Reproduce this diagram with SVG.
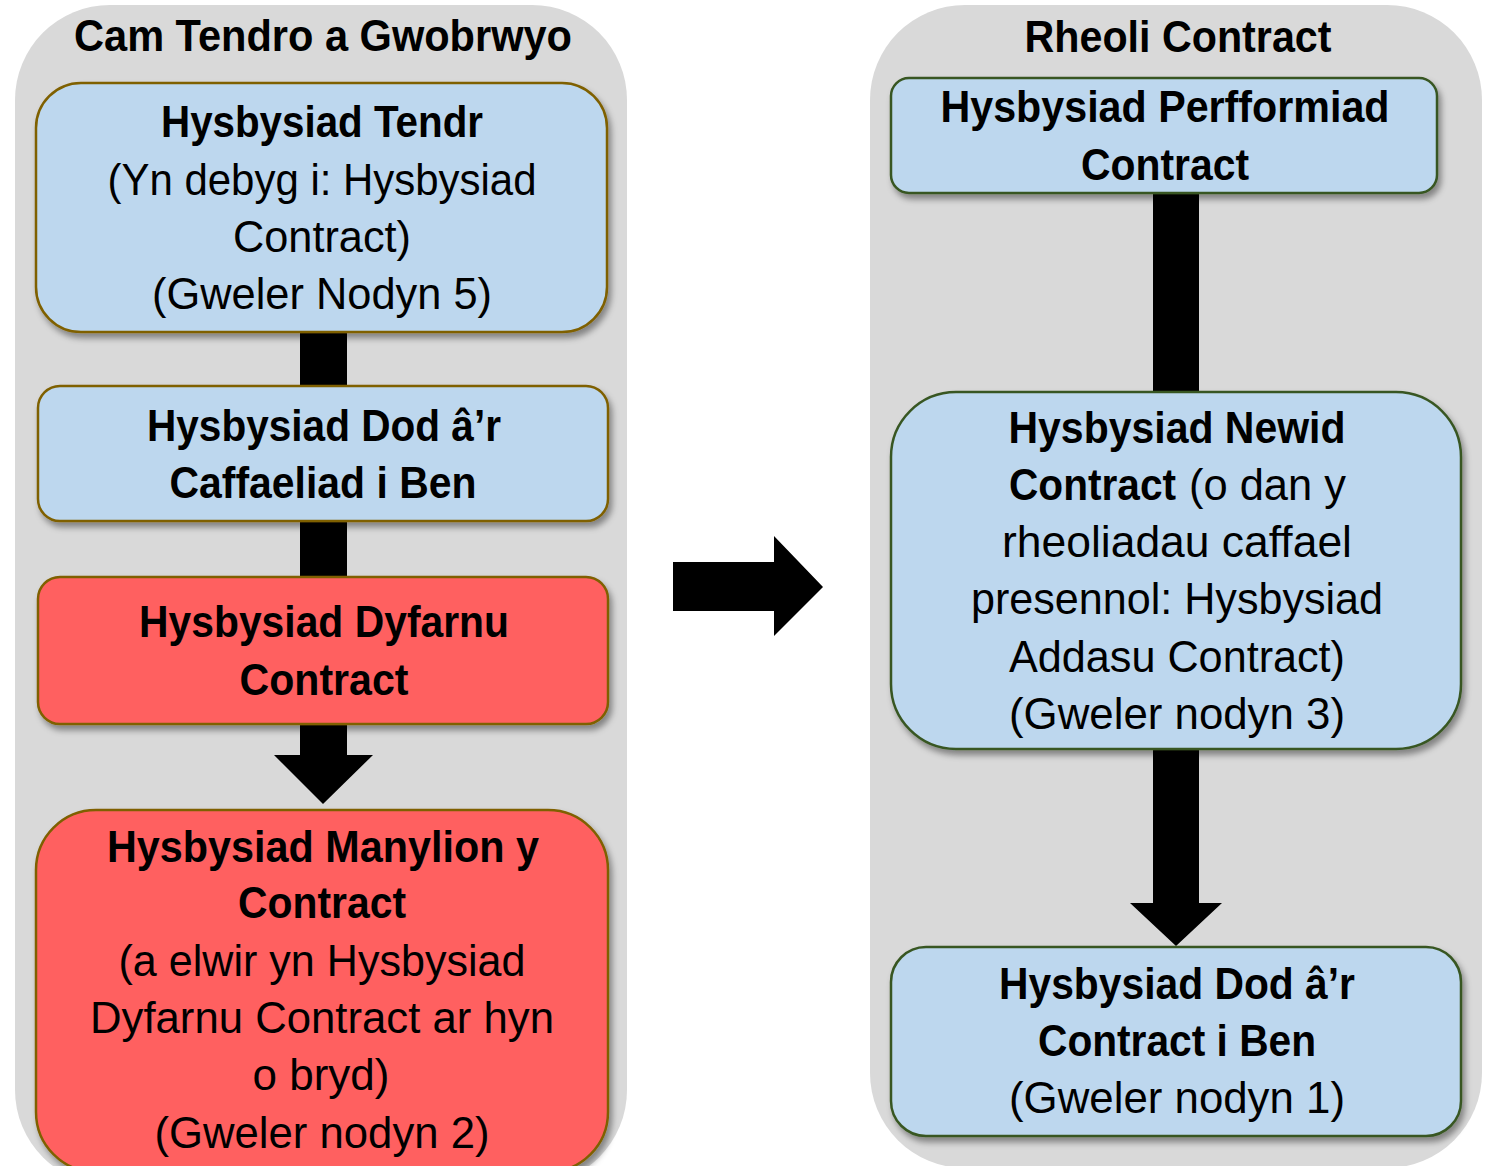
<svg xmlns="http://www.w3.org/2000/svg" width="1493" height="1166" viewBox="0 0 1493 1166">
<defs>
<style>
.t{font-family:"Liberation Sans",Arial,sans-serif;font-size:45px;fill:#000;text-anchor:middle}
.b{font-weight:bold}
.s{text-anchor:start}
.panel{fill:#D9D9D9}
.blueL{fill:#BDD7EE;stroke:#7F6000;stroke-width:2.5;filter:url(#sh)}
.redL{fill:#FF6161;stroke:#7F6000;stroke-width:2.5;filter:url(#sh)}
.blueR{fill:#BDD7EE;stroke:#385723;stroke-width:2.5;filter:url(#sh)}
.conn{fill:#000}
</style>
<filter id="sh" x="-10%" y="-10%" width="125%" height="130%">
<feDropShadow dx="3" dy="5" stdDeviation="3" flood-color="#000" flood-opacity="0.4"/>
</filter>
</defs>
<rect width="1493" height="1166" fill="#fff"/>
<g id="panel-left">
<rect class="panel" x="15" y="5" width="612" height="1180" rx="95"/>
<text class="t b" x="323" y="51" textLength="498" lengthAdjust="spacingAndGlyphs">Cam Tendro a Gwobrwyo</text>
</g>
<g id="panel-right">
<rect class="panel" x="870" y="5" width="612" height="1163" rx="95"/>
<text class="t b" x="1178" y="52" textLength="307" lengthAdjust="spacingAndGlyphs">Rheoli Contract</text>
</g>
<g id="connectors">
<rect class="conn" x="300" y="330" width="47" height="58"/>
<rect class="conn" x="300" y="519" width="47" height="60"/>
<polygon class="conn" points="300,724 347,724 347,755 373,755 323,804 274,755 300,755"/>
<polygon class="conn" points="673,562 774,562 774,536 823,587 774,636 774,611 673,611"/>
<rect class="conn" x="1153" y="192" width="46" height="201"/>
<polygon class="conn" points="1153,749 1199,749 1199,903 1222,903 1176,946 1130,903 1153,903"/>
</g>
<g id="node-tendr">
<rect class="blueL" x="36" y="83" width="571" height="249" rx="45"/>
<text class="t b" x="322" y="137" textLength="322" lengthAdjust="spacingAndGlyphs">Hysbysiad Tendr</text>
<text class="t" x="322" y="195" textLength="429" lengthAdjust="spacingAndGlyphs">(Yn debyg i: Hysbysiad</text>
<text class="t" x="322" y="252" textLength="178" lengthAdjust="spacingAndGlyphs">Contract)</text>
<text class="t" x="322" y="309" textLength="340" lengthAdjust="spacingAndGlyphs">(Gweler Nodyn 5)</text>
</g>
<g id="node-dod-caffaeliad">
<rect class="blueL" x="38" y="386" width="570" height="135" rx="22"/>
<text class="t b" x="324" y="441" textLength="354" lengthAdjust="spacingAndGlyphs">Hysbysiad Dod â’r</text>
<text class="t b" x="323" y="498" textLength="307" lengthAdjust="spacingAndGlyphs">Caffaeliad i Ben</text>
</g>
<g id="node-dyfarnu">
<rect class="redL" x="38" y="577" width="570" height="147" rx="22"/>
<text class="t b" x="324" y="637" textLength="370" lengthAdjust="spacingAndGlyphs">Hysbysiad Dyfarnu</text>
<text class="t b" x="324" y="695" textLength="169" lengthAdjust="spacingAndGlyphs">Contract</text>
</g>
<g id="node-manylion">
<rect class="redL" x="36" y="810" width="572" height="362" rx="60"/>
<text class="t b" x="323" y="862" textLength="432" lengthAdjust="spacingAndGlyphs">Hysbysiad Manylion y</text>
<text class="t b" x="322" y="918" textLength="168" lengthAdjust="spacingAndGlyphs">Contract</text>
<text class="t" x="322" y="976" textLength="407" lengthAdjust="spacingAndGlyphs">(a elwir yn Hysbysiad</text>
<text class="t" x="322" y="1033" textLength="464" lengthAdjust="spacingAndGlyphs">Dyfarnu Contract ar hyn</text>
<text class="t" x="321" y="1090" textLength="137" lengthAdjust="spacingAndGlyphs">o bryd)</text>
<text class="t" x="322" y="1148" textLength="335" lengthAdjust="spacingAndGlyphs">(Gweler nodyn 2)</text>
</g>
<g id="node-perfformiad">
<rect class="blueR" x="891" y="78" width="546" height="115" rx="18"/>
<text class="t b" x="1165" y="122" textLength="449" lengthAdjust="spacingAndGlyphs">Hysbysiad Perfformiad</text>
<text class="t b" x="1165" y="180" textLength="168" lengthAdjust="spacingAndGlyphs">Contract</text>
</g>
<g id="node-newid">
<rect class="blueR" x="891" y="392" width="570" height="357" rx="65"/>
<text class="t b" x="1177" y="443" textLength="337" lengthAdjust="spacingAndGlyphs">Hysbysiad Newid</text>
<text class="t b s" x="1009" y="500" textLength="167" lengthAdjust="spacingAndGlyphs">Contract</text>
<text class="t s" x="1189" y="500" textLength="157" lengthAdjust="spacingAndGlyphs">(o dan y</text>
<text class="t" x="1177" y="557" textLength="350" lengthAdjust="spacingAndGlyphs">rheoliadau caffael</text>
<text class="t" x="1177" y="614" textLength="412" lengthAdjust="spacingAndGlyphs">presennol: Hysbysiad</text>
<text class="t" x="1177" y="672" textLength="336" lengthAdjust="spacingAndGlyphs">Addasu Contract)</text>
<text class="t" x="1177" y="729" textLength="336" lengthAdjust="spacingAndGlyphs">(Gweler nodyn 3)</text>
</g>
<g id="node-dod-contract">
<rect class="blueR" x="891" y="947" width="570" height="189" rx="35"/>
<text class="t b" x="1177" y="999" textLength="356" lengthAdjust="spacingAndGlyphs">Hysbysiad Dod â’r</text>
<text class="t b" x="1177" y="1056" textLength="278" lengthAdjust="spacingAndGlyphs">Contract i Ben</text>
<text class="t" x="1177" y="1113" textLength="336" lengthAdjust="spacingAndGlyphs">(Gweler nodyn 1)</text>
</g>
</svg>
